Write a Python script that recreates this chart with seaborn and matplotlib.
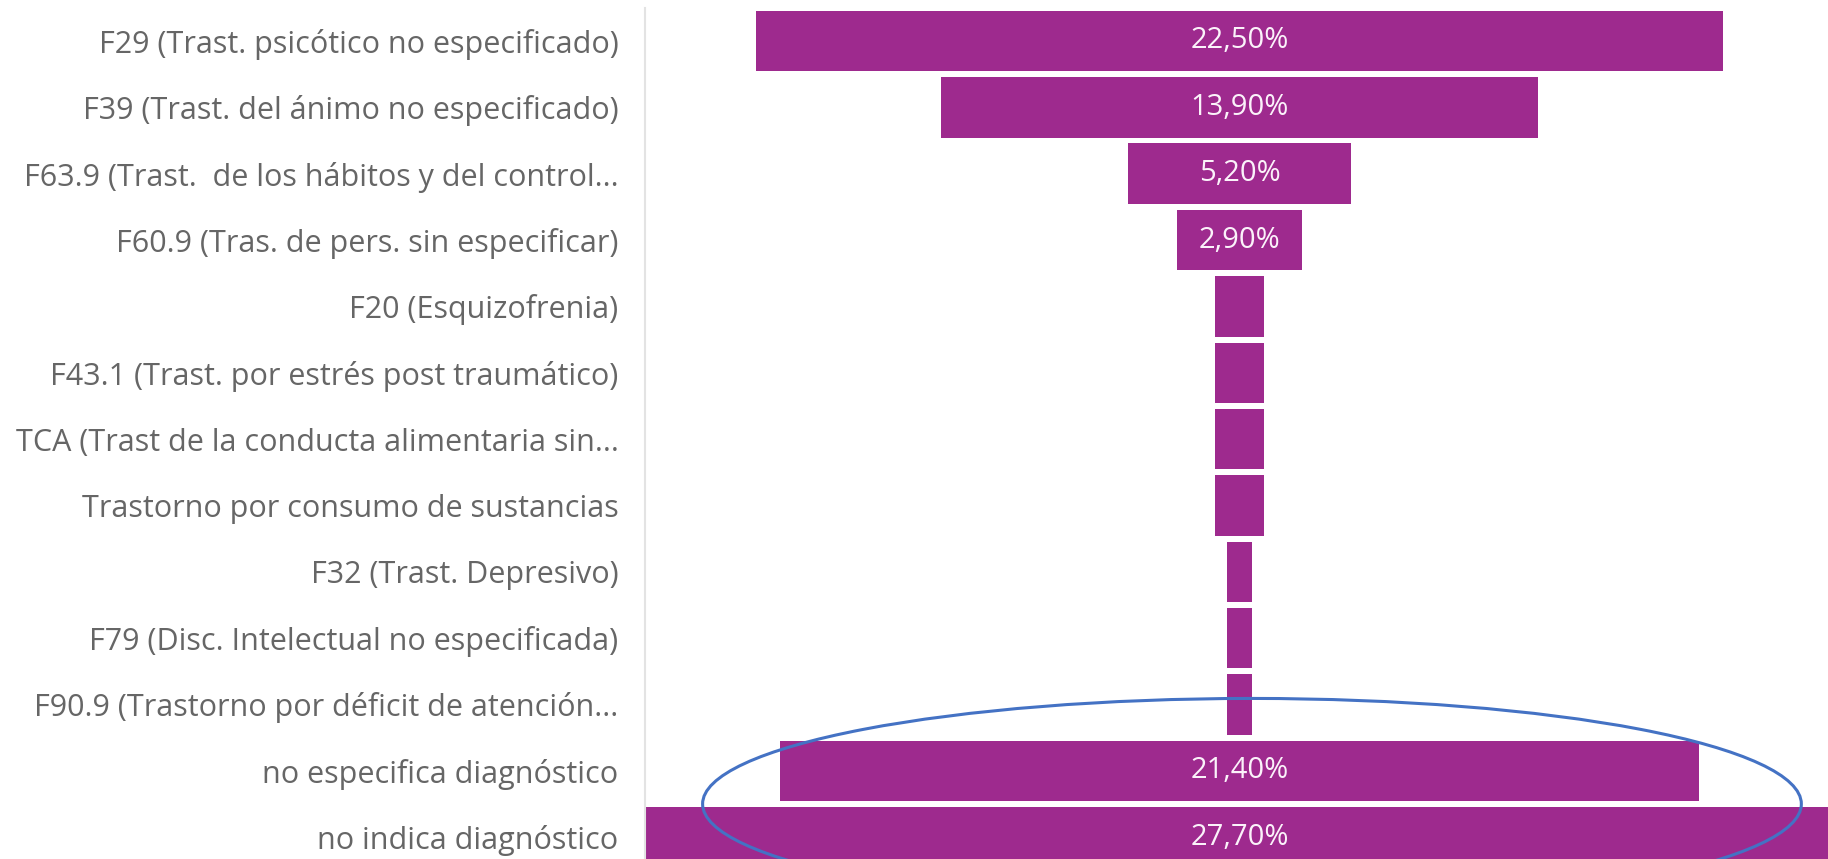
import matplotlib
matplotlib.use("Agg")
import matplotlib.pyplot as plt
from matplotlib.patches import Ellipse
import seaborn as sns
import pandas as pd

# Diagnoses, top to bottom, and their share of cases (%)
categories = [
    "F29 (Trast. psicótico no especificado)",
    "F39 (Trast. del ánimo no especificado)",
    "F63.9 (Trast.  de los hábitos y del control...",
    "F60.9 (Tras. de pers. sin especificar)",
    "F20 (Esquizofrenia)",
    "F43.1 (Trast. por estrés post traumático)",
    "TCA (Trast de la conducta alimentaria sin...",
    "Trastorno por consumo de sustancias",
    "F32 (Trast. Depresivo)",
    "F79 (Disc. Intelectual no especificada)",
    "F90.9 (Trastorno por déficit de atención...",
    "no especifica diagnóstico",
    "no indica diagnóstico",
]
values = [22.5, 13.9, 5.2, 2.9, 1.15, 1.15, 1.15, 1.15, 0.57, 0.57, 0.57, 21.4, 27.7]
# bars narrower than this carry no value label
label_min = 2.5

BAR = "#9E2A8E"
TEXT = "#666666"
FONT = "Open Sans"

df = pd.DataFrame({"diagnostico": categories, "pct": values})

W, H, DPI = 1828, 859, 100
fig = plt.figure(figsize=(W / DPI, H / DPI), dpi=DPI)
fig.patch.set_facecolor("white")
ax = fig.add_axes([645 / W, 0, 1 - 645 / W, (H - 8) / H])

sns.barplot(data=df, x="pct", y="diagnostico", orient="h", color=BAR,
            saturation=1, width=0.91, ax=ax, linewidth=0)

# funnel: centre every bar on zero
for patch in ax.patches:
    w = patch.get_width()
    patch.set_x(-w / 2)

for i, v in enumerate(values):
    if v >= label_min:
        ax.text(0, i, f"{v:.2f}".replace(".", ",") + "%", ha="center",
                va="center", color="#FBF2FA", fontsize=21, family=FONT)

ax.set_xlim(-13.83, 13.69)
ax.set_ylim(12.33, -0.497)
ax.set_xlabel("")
ax.set_ylabel("")
ax.set_xticks([])
ax.tick_params(axis="y", length=0, pad=19)
for lbl in ax.get_yticklabels():
    lbl.set_family(FONT)
    lbl.set_fontsize(22)
    lbl.set_color(TEXT)

for s in ["top", "right", "bottom"]:
    ax.spines[s].set_visible(False)
ax.spines["left"].set_color("#E3E3E3")
ax.spines["left"].set_linewidth(1.5)
ax.set_facecolor("white")

# highlight around the two "no diagnosis" groups
ax.add_patch(Ellipse((0.29, 11.5), 25.56, 3.18, fill=False, edgecolor="#4472C4",
                     linewidth=2.2, clip_on=False, zorder=5))

fig.savefig("out.png", dpi=DPI, facecolor="white")
